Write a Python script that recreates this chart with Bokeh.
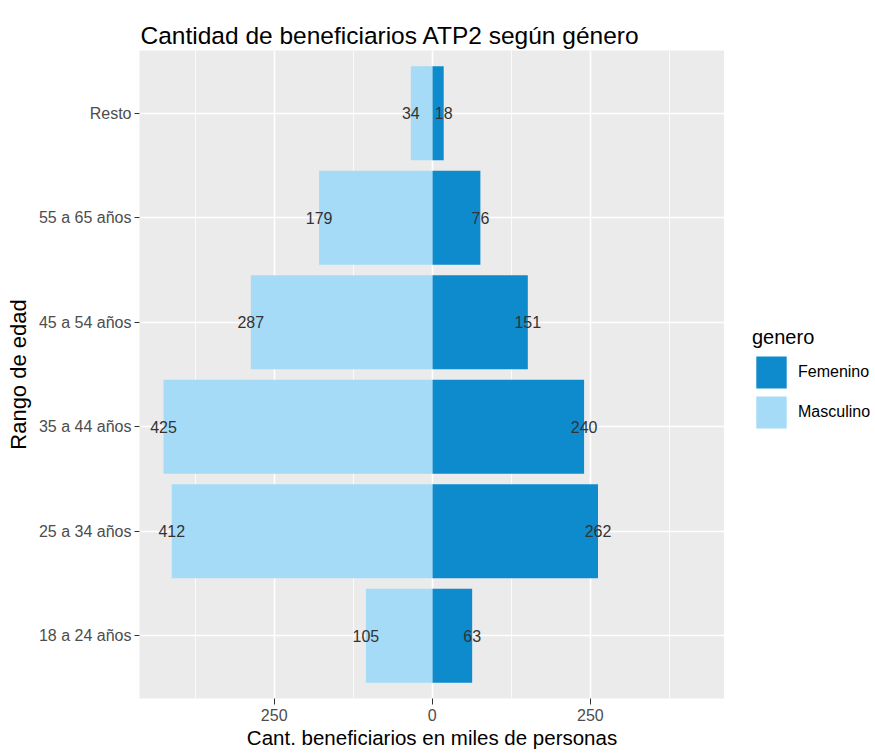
from bokeh.plotting import figure
from bokeh.layouts import row
from bokeh.models import Range1d, FixedTicker, Legend, LegendItem, ColumnDataSource
from bokeh.core.properties import value
from bokeh.embed import file_html
from bokeh.resources import INLINE

categories = ["18 a 24 años", "25 a 34 años", "35 a 44 años", "45 a 54 años", "55 a 65 años", "Resto"]
femenino = [63, 262, 240, 151, 76, 18]
masculino = [105, 412, 425, 287, 179, 34]
x_ticks = [-250, 0, 250]
x_tick_labels = ["250", "0", "250"]
x_minor_ticks = [-375, -125, 125, 375]

FEM = "#0E8BCD"
MAS = "#A5DBF6"
FONT = "Liberation Sans"

pos = list(range(1, len(categories) + 1))
src = ColumnDataSource(dict(
    y=pos,
    fem=femenino,
    mas=[-v for v in masculino],
    fem_lbl=[str(v) for v in femenino],
    mas_lbl=[str(v) for v in masculino],
))

p = figure(frame_width=585, frame_height=648, output_backend="svg", toolbar_location=None,
           x_range=Range1d(-463, 462), y_range=Range1d(0.4, 6.6),
           min_border_left=139, min_border_right=0, min_border_top=50, min_border_bottom=45)

p.background_fill_color = "#EBEBEB"
p.border_fill_color = "white"
p.outline_line_color = None

p.title.text = "Cantidad de beneficiarios ATP2 según género"
p.title.text_font = FONT
p.title.text_font_size = "24.5px"
p.title.text_font_style = "normal"
p.title.text_color = "black"
p.title.align = "left"
p.title.offset = 1
p.title.standoff = 4

r_fem = p.hbar(y="y", left=0, right="fem", height=0.9, source=src, fill_color=FEM, line_color=None)
r_mas = p.hbar(y="y", left="mas", right=0, height=0.9, source=src, fill_color=MAS, line_color=None)

p.text(x="mas", y="y", text="mas_lbl", source=src, text_align="center", text_baseline="middle",
       text_font=value(FONT), text_font_size="16px", text_color="#333333")
p.text(x="fem", y="y", text="fem_lbl", source=src, text_align="center", text_baseline="middle",
       text_font=value(FONT), text_font_size="16px", text_color="#333333")

# x axis
p.xaxis.ticker = FixedTicker(ticks=x_ticks, minor_ticks=x_minor_ticks)
p.xaxis.major_label_overrides = {t: l for t, l in zip(x_ticks, x_tick_labels)}
p.xaxis.axis_label = "Cant. beneficiarios en miles de personas"
# y axis
p.yaxis.ticker = FixedTicker(ticks=pos)
p.yaxis.major_label_overrides = {i: c for i, c in zip(pos, categories)}
p.yaxis.axis_label = "Rango de edad"

for ax in (p.xaxis[0], p.yaxis[0]):
    ax.axis_line_color = None
    ax.major_tick_line_color = "#333333"
    ax.major_tick_out = 5
    ax.major_tick_in = 0
    ax.minor_tick_line_color = None
    ax.major_label_text_font = FONT
    ax.major_label_text_font_size = "16px"
    ax.major_label_text_color = "#4D4D4D"
    ax.major_label_standoff = 3
    ax.axis_label_text_font = FONT
    ax.axis_label_text_font_style = "normal"
    ax.axis_label_text_color = "black"
p.xaxis.major_tick_out = 6
p.xaxis.major_label_standoff = 4
p.xaxis.axis_label_text_font_size = "20.5px"
p.xaxis.axis_label_standoff = 2
p.yaxis.axis_label_text_font_size = "22px"
p.yaxis.axis_label_standoff = 5

p.xgrid.grid_line_color = "white"
p.xgrid.grid_line_width = 1.6
p.xgrid.minor_grid_line_color = "white"
p.xgrid.minor_grid_line_width = 0.8
p.ygrid.grid_line_color = "white"
p.ygrid.grid_line_width = 1.6

# legend panel (separate canvas to the right of the plot, frame aligned with the plot's)
pl = figure(frame_width=151, frame_height=648, output_backend="svg", toolbar_location=None,
            x_range=Range1d(-463, 462), y_range=Range1d(0.4, 6.6),
            x_axis_type=None, y_axis_type=None,
            min_border_left=0, min_border_right=0, min_border_top=50, min_border_bottom=45)
pl.outline_line_color = None
pl.background_fill_color = "white"
pl.border_fill_color = "white"
pl.grid.visible = False
l_fem = pl.hbar(y="y", left=0, right="fem", height=0.9, source=src, fill_color=FEM, line_color=None, visible=False)
l_mas = pl.hbar(y="y", left="mas", right=0, height=0.9, source=src, fill_color=MAS, line_color=None, visible=False)

legend = Legend(items=[LegendItem(label="Femenino", renderers=[l_fem]),
                       LegendItem(label="Masculino", renderers=[l_mas])],
                location=(28, 266))
legend.title = "genero"
legend.title_text_font = FONT
legend.title_text_font_size = "20px"
legend.title_text_font_style = "normal"
legend.title_text_color = "black"
legend.title_standoff = 3
legend.label_text_font = FONT
legend.label_text_font_size = "16px"
legend.label_text_color = "black"
legend.glyph_width = 38
legend.glyph_height = 40
legend.label_height = 40
legend.label_standoff = 8
legend.spacing = -4
legend.padding = 8
legend.margin = 0
legend.inactive_fill_alpha = 0
legend.background_fill_alpha = 0
legend.border_line_color = None
pl.add_layout(legend, "center")

layout = row(p, pl)
open("out.html", "w").write(file_html(layout, INLINE))
